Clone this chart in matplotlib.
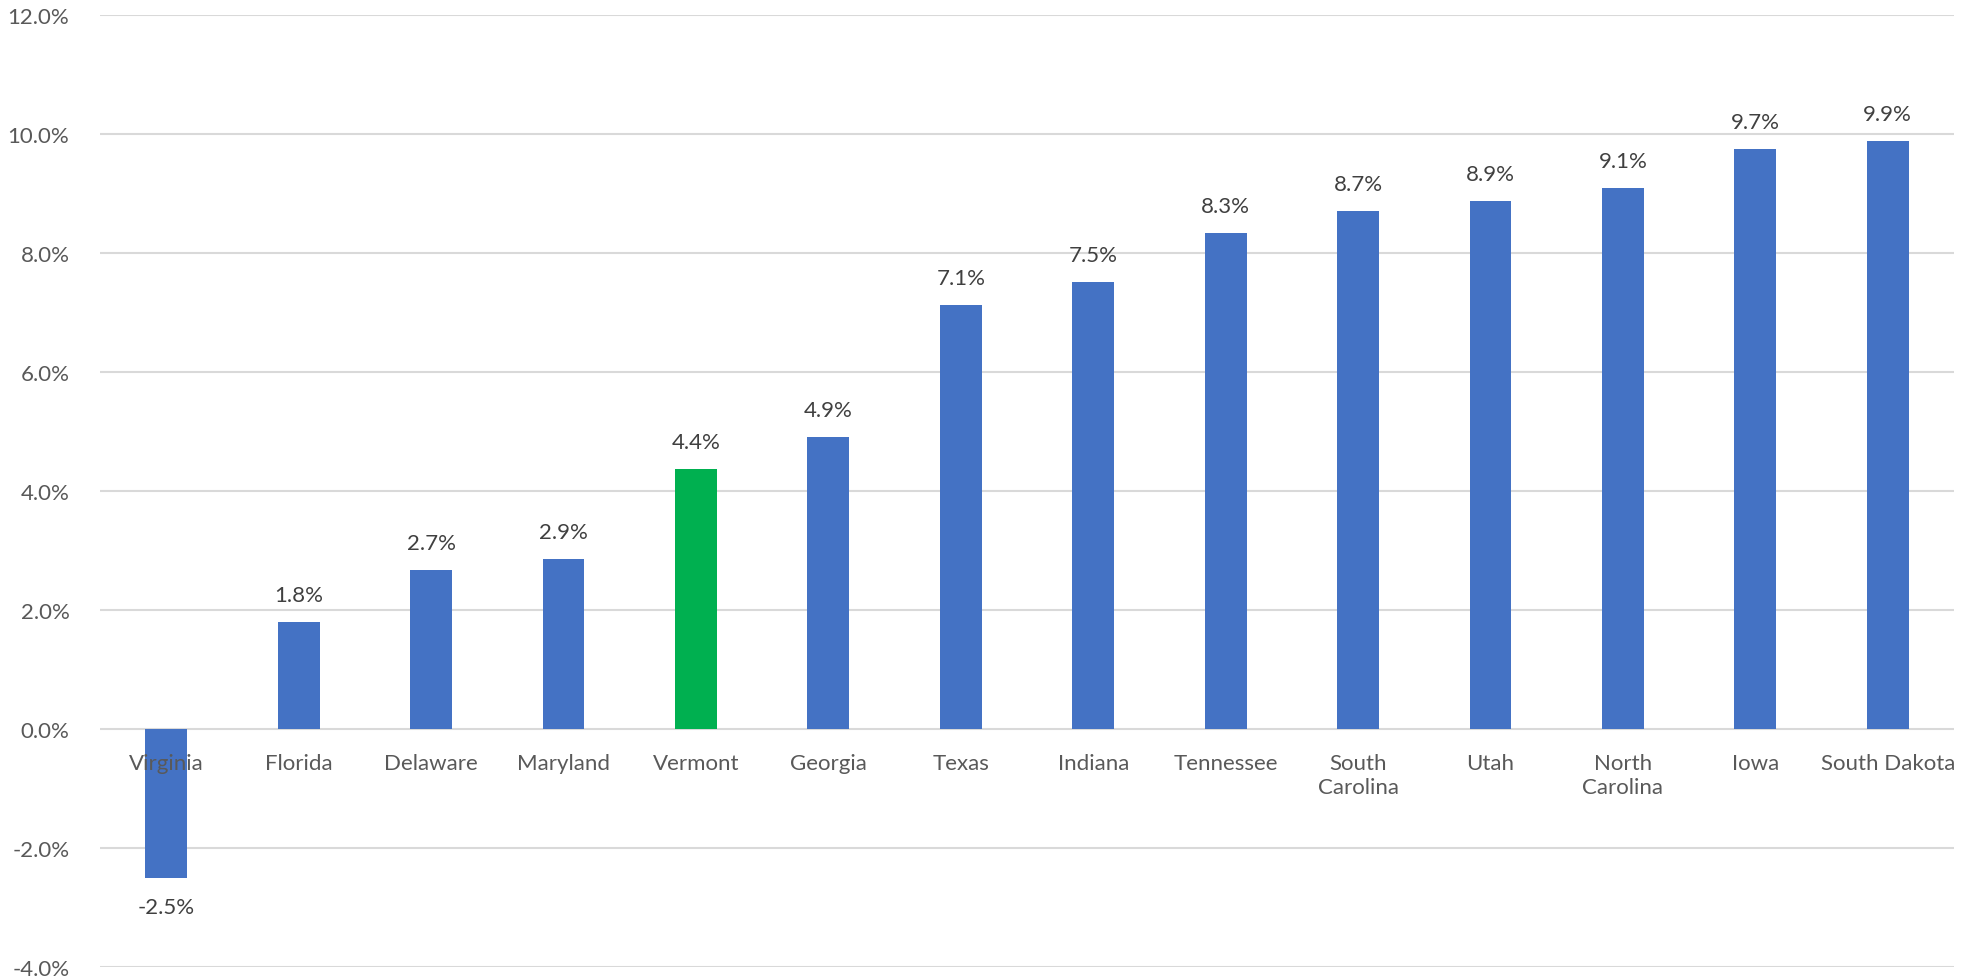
import matplotlib
matplotlib.use("Agg")
import matplotlib.pyplot as plt
from matplotlib.ticker import FuncFormatter, MultipleLocator

states = ["Virginia", "Florida", "Delaware", "Maryland", "Vermont", "Georgia", "Texas",
          "Indiana", "Tennessee", "South\nCarolina", "Utah", "North\nCarolina", "Iowa", "South Dakota"]
values = [-2.5, 1.8, 2.68, 2.85, 4.37, 4.91, 7.13, 7.51, 8.34, 8.70, 8.88, 9.09, 9.74, 9.89]
labels = ["-2.5%", "1.8%", "2.7%", "2.9%", "4.4%", "4.9%", "7.1%", "7.5%", "8.3%", "8.7%",
          "8.9%", "9.1%", "9.7%", "9.9%"]
highlight = "Vermont"

plt.rcParams['font.family'] = ['Lato', 'DejaVu Sans']

W, H = 1969, 979
fig = plt.figure(figsize=(W / 100, H / 100), dpi=100)
ax = fig.add_axes([100 / W, 1 - 968 / H, (1954 - 100) / W, (968 - 16) / H])

colors = ["#00B050" if s == highlight else "#4472C4" for s in states]
x = list(range(len(states)))
bars = ax.bar(x, values, width=0.315, color=colors, zorder=3)

ax.set_xlim(-0.5, len(states) - 0.5)
ax.set_ylim(-4, 12)
ax.yaxis.set_major_locator(MultipleLocator(2))
ax.yaxis.set_major_formatter(FuncFormatter(lambda v, p: f"{v:.1f}%"))
ax.set_axisbelow(True)
ax.grid(axis='y', color='#d9d9d9', linewidth=1.5)
for sp in ['top', 'right', 'left']:
    ax.spines[sp].set_visible(False)
ax.spines['bottom'].set_position(('data', 0))
ax.spines['bottom'].set_visible(False)

ax.set_xticks(x)
ax.set_xticklabels(states, fontsize=16, color='#595959', linespacing=1.3)
ax.tick_params(axis='x', length=0, pad=17)
ax.tick_params(axis='y', length=0, pad=22, labelsize=16, labelcolor='#595959')
ax.xaxis.set_zorder(4)

for xi, v, lab in zip(x, values, labels):
    if v >= 0:
        ax.annotate(lab, (xi, v), xytext=(0, 17), textcoords='offset pixels',
                    ha='center', va='bottom', fontsize=16, color='#404040')
    else:
        ax.annotate(lab, (xi, v), xytext=(0, -19), textcoords='offset pixels',
                    ha='center', va='top', fontsize=16, color='#404040')

fig.savefig("out.png", dpi=100, facecolor='white')
